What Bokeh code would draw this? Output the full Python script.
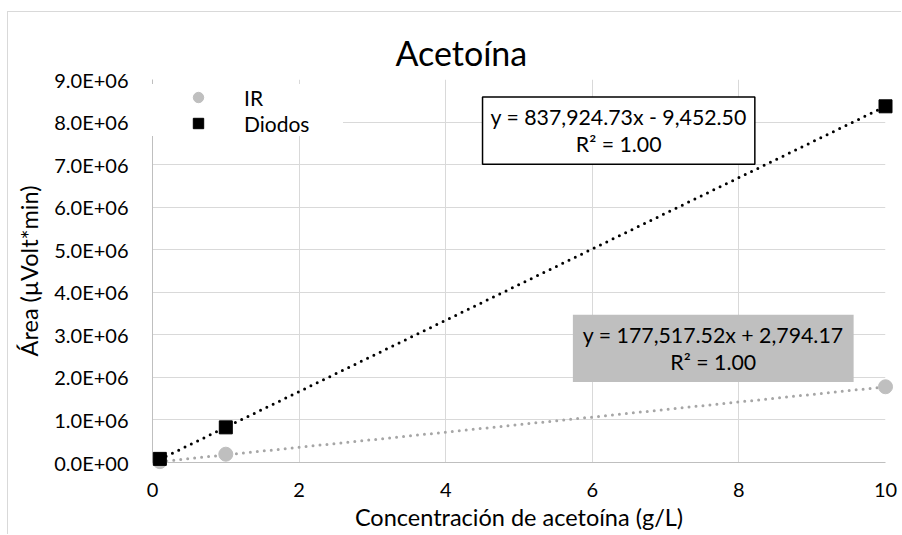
from bokeh.plotting import figure
from bokeh.models import (CustomJSTickFormatter, Label, Legend, LegendItem,
                          SingleIntervalTicker)
from bokeh.embed import file_html
from bokeh.resources import INLINE

# Calibration data: acetoin concentration (g/L) vs. peak area (µVolt*min)
conc = [0.1, 1.0, 10.0]
ir_area = [20500, 195000, 1780000]
diodos_area = [85000, 826000, 8370000]

# Linear trendlines (slope, intercept, R²) for each detector
ir_fit = (177517.52, 2794.17, 1.00)
diodos_fit = (837924.73, -9452.50, 1.00)

title_text = "Acetoína"
x_title = "Concentración de acetoína (g/L)"
y_title = "Área (µVolt*min)"
series_names = ["IR", "Diodos"]

FONT = "Lato"
GRID = "#d9d9d9"
IR_MARK = "#bfbfbf"
IR_LINE = "#a6a6a6"


def fit_label(fit):
    slope, intercept, r2 = fit
    sign = "-" if intercept < 0 else "+"
    return f"y = {slope:,.2f}x {sign} {abs(intercept):,.2f}\nR² = {r2:.2f}"


# The chart area sits inside a light border offset from the page corner
p = figure(width=894, height=523, output_backend="svg", toolbar_location=None,
           x_range=(0, 10), y_range=(0, 9e6),
           min_border_left=144, min_border_right=17,
           min_border_top=67, min_border_bottom=73,
           margin=(11, 0, 0, 7),
           styles={"border-top": f"1px solid {GRID}",
                   "border-left": f"1px solid {GRID}"})
p.background_fill_color = "white"
p.border_fill_color = "white"
p.outline_line_color = None

# Title
p.title.text = title_text
p.title.text_font = FONT
p.title.text_font_size = "34px"
p.title.text_font_style = "normal"
p.title.text_color = "#000000"
p.title.align = "left"
p.title.offset = 243
p.title.standoff = 14

# Axes
for ax in (p.xaxis[0], p.yaxis[0]):
    ax.axis_line_color = "#bfbfbf"
    ax.major_tick_line_color = None
    ax.minor_tick_line_color = None
    ax.major_tick_out = 0
    ax.major_tick_in = 0
    ax.minor_tick_out = 0
    ax.major_label_text_font = FONT
    ax.major_label_text_font_size = "20px"
    ax.major_label_text_color = "#000000"
    ax.axis_label_text_font = FONT
    ax.axis_label_text_font_style = "normal"
    ax.axis_label_text_color = "#000000"

p.xaxis.ticker = SingleIntervalTicker(interval=2)
p.yaxis.ticker = SingleIntervalTicker(interval=1e6)
p.xaxis.axis_label = x_title
p.yaxis.axis_label = y_title
p.xaxis.axis_label_text_font_size = "23.5px"
p.yaxis.axis_label_text_font_size = "23.5px"
p.xaxis.major_label_standoff = 20
p.xaxis.axis_label_standoff = 3
p.yaxis.major_label_standoff = 24
p.yaxis.axis_label_standoff = 8
p.yaxis.formatter = CustomJSTickFormatter(code="""
    const parts = tick.toExponential(1).split('e');
    let e = parseInt(parts[1]);
    const sign = e < 0 ? '-' : '+';
    e = Math.abs(e);
    return parts[0] + 'E' + sign + (e < 10 ? '0' : '') + e;
""")

p.xgrid.grid_line_color = GRID
p.ygrid.grid_line_color = GRID
p.xgrid.grid_line_width = 1
p.ygrid.grid_line_width = 1

# Trendlines over the span of the data
x0, x1 = min(conc), max(conc)
tx = [x0, x1]
p.line(tx, [ir_fit[0] * x + ir_fit[1] for x in tx], line_color=IR_LINE,
       line_width=3, line_dash="0 7", line_cap="round")
p.line(tx, [diodos_fit[0] * x + diodos_fit[1] for x in tx], line_color="black",
       line_width=3, line_dash="0 7", line_cap="round")

# Measured points
r_ir = p.scatter(conc, ir_area, marker="circle", size=14, fill_color=IR_MARK,
                 line_color=IR_MARK, level="overlay")
r_di = p.scatter(conc, diodos_area, marker="square", size=13, fill_color="black",
                 line_color="black", level="overlay")

legend = Legend(items=[LegendItem(label=series_names[0], renderers=[r_ir]),
                       LegendItem(label=series_names[1], renderers=[r_di])],
                location=(0, 326), padding=2, margin=0, spacing=0,
                glyph_width=92, glyph_height=26, label_height=26,
                label_width=99, label_standoff=-4,
                label_text_font=FONT, label_text_font_size="21px",
                label_text_color="#000000",
                border_line_color=None, background_fill_color="white",
                background_fill_alpha=1.0)
p.add_layout(legend)

# Trendline equations
p.add_layout(Label(x=6.36, y=7.80e6, text=fit_label(diodos_fit),
                   text_align="center", text_baseline="middle",
                   text_font=FONT, text_font_size="21.3px", text_color="black",
                   text_line_height=1.05,
                   background_fill_color="white", border_line_color="black",
                   border_line_width=1.5,
                   padding=dict(left=8, right=8, top=7, bottom=7)))
p.add_layout(Label(x=7.65, y=2.68e6, text=fit_label(ir_fit),
                   text_align="center", text_baseline="middle",
                   text_font=FONT, text_font_size="21.3px", text_color="black",
                   text_line_height=1.05,
                   background_fill_color=IR_MARK, border_line_color=None,
                   padding=dict(left=10, right=10, top=7, bottom=7)))

open("out.html", "w").write(file_html(p, INLINE))
